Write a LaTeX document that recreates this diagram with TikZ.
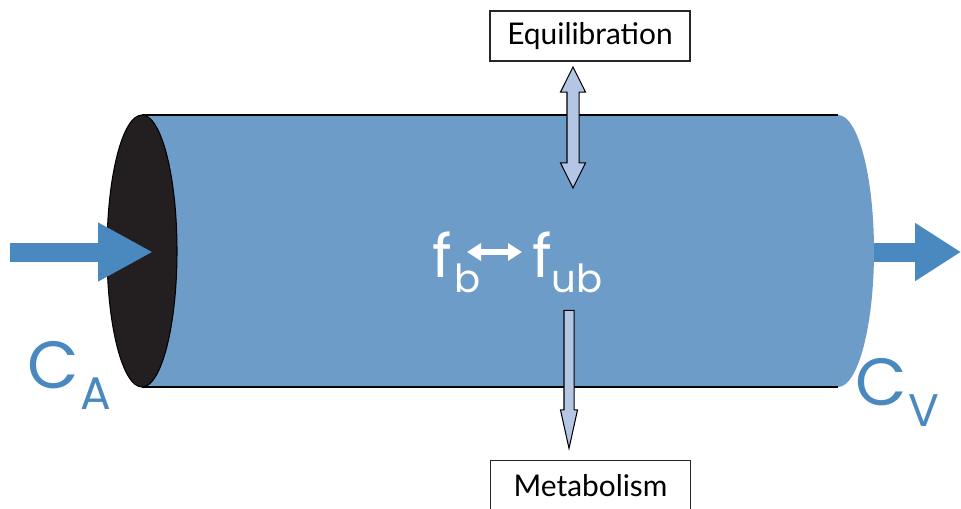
\documentclass[tikz,border=0pt]{standalone}
\usepackage{fontspec}
\setmainfont{Lato}
\newfontfamily\geofont{Poppins}
\usetikzlibrary{shapes.geometric, shapes.arrows, arrows.meta}
\definecolor{tubeblue}{HTML}{6E9CC9}
\definecolor{flowblue}{HTML}{4A89BF}
\definecolor{paleblue}{HTML}{B3C7E5}
\definecolor{capdark}{HTML}{231F20}

\begin{document}
\begin{tikzpicture}[
    x=0.02cm, y=-0.02cm,
    labelbox/.style={rectangle, draw=black!85, line width=0.6pt, fill=white, minimum width=4cm, minimum height=1cm, inner sep=0pt, font=\fontsize{17}{19}\selectfont},
    flow/.style={draw=flowblue, line width=0.38cm},
    conc/.style={text=flowblue, inner sep=0pt, anchor=base west, font=\geofont\fontsize{38}{38}\selectfont},
    concsub/.style={text=flowblue, inner sep=0pt, anchor=base west, font=\geofont\fontsize{26}{26}\selectfont},
    frac/.style={text=white, inner sep=0pt, anchor=base west, font=\geofont\fontsize{34}{34}\selectfont},
    fracsub/.style={text=white, inner sep=0pt, anchor=base west, font=\geofont\fontsize{22}{22}\selectfont},
    exchange/.style={draw=black, line width=0.6pt, fill=paleblue, inner xsep=0pt}
]
    \useasboundingbox (0,0) rectangle (961,508);

    % vessel
    \fill[tubeblue] (142,115) -- (838,115) arc[start angle=-90, end angle=90, x radius=36, y radius=136] -- (142,387) -- cycle;
    \draw[line width=0.8pt] (142,115) -- (838,115);
    \draw[line width=0.8pt] (142,387) -- (838,387);
    \node[ellipse, draw=black, fill=capdark, line width=0.6pt, minimum width=1.4cm, minimum height=5.44cm, inner sep=0pt] (inlet) at (142,251) {};

    % arterial in, venous out
    \coordinate (arterial) at (10,252);
    \coordinate (capin) at (153,252);
    \coordinate (capout) at (874,252);
    \coordinate (venous) at (961,252);
    \draw[flow, -{Triangle[length=1.1cm, width=1.1cm]}] (arterial) -- (capin);
    \draw[flow, -{Triangle[length=0.92cm, width=1.1cm]}] (capout) -- (venous);

    \node[conc] (ca) at (27,388) {C};
    \node[concsub] (casub) at (80,409) {A};
    \node[conc] (cv) at (855,405) {C};
    \node[concsub] (cvsub) at (908,426) {V};

    % binding
    \node[frac] (fbf) at (432,277) {f};
    \node[fracsub] (fbsub) at (454,292) {b};
    \node[frac] (fubf) at (532,277) {f};
    \node[fracsub] (fubsub) at (551,292) {ub};
    \coordinate (bindl) at (467,252);
    \coordinate (bindr) at (522,252);
    \draw[white, line width=0.13cm, {Triangle[length=0.28cm, width=0.34cm]}-{Triangle[length=0.28cm, width=0.34cm]}] (bindl) -- (bindr);

    % exchange with tissue
    \node[labelbox] (equil) at (590,36) {Equilibration};
    \node[labelbox] (metab) at (590.5,485.5) {Metabolism};
    \node[exchange, double arrow, rotate=90, minimum height=2.42cm, inner ysep=0.11cm, double arrow head extend=0.13cm, double arrow tip angle=53] (eqarrow) at (573,127.5) {};
    \node[exchange, single arrow, rotate=-90, minimum height=2.76cm, inner ysep=0.09cm, single arrow head extend=0.07cm, single arrow tip angle=25] (metarrow) at (569,368) {};
\end{tikzpicture}
\end{document}
